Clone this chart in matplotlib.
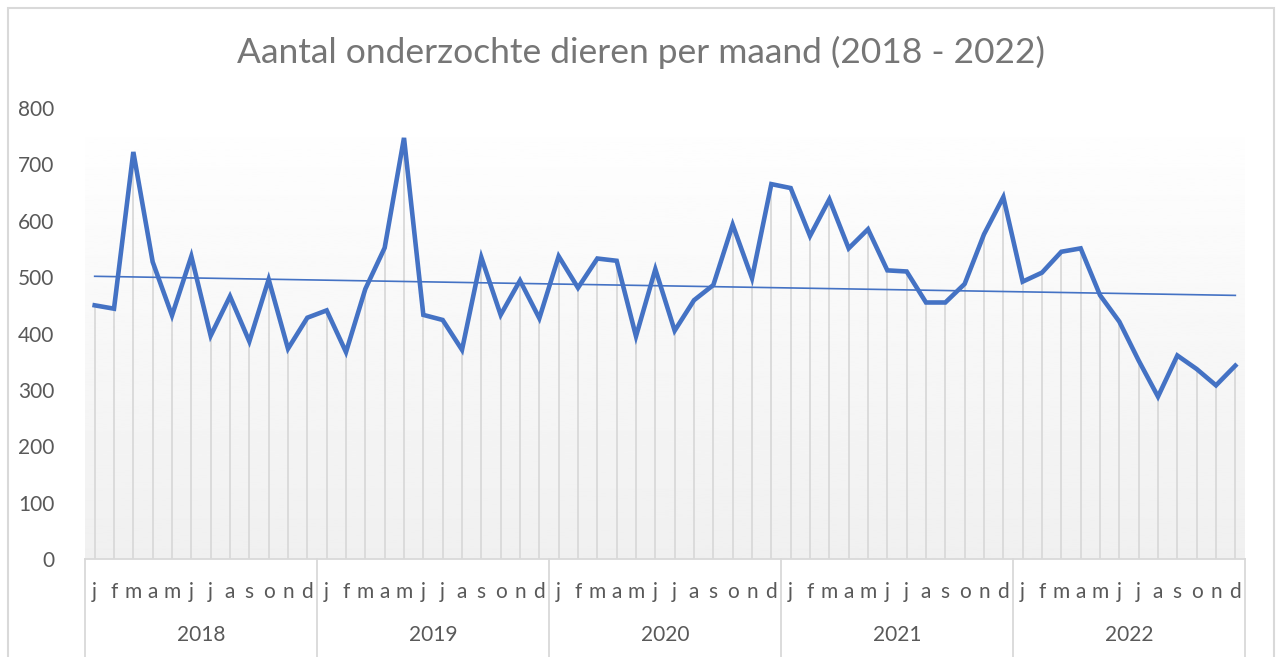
import numpy as np
import matplotlib
matplotlib.use('Agg')
import matplotlib.pyplot as plt
from matplotlib.patches import Rectangle

YEARS = ['2018', '2019', '2020', '2021', '2022']
MONTHS = ['j', 'f', 'm', 'a', 'm', 'j', 'j', 'a', 's', 'o', 'n', 'd']

COUNTS_2018 = [450, 444, 722, 527, 432, 537, 396, 466, 386, 496, 373, 428]
COUNTS_2019 = [441, 367, 479, 552, 747, 433, 424, 371, 535, 433, 494, 427]
COUNTS_2020 = [537, 481, 533, 529, 395, 514, 405, 459, 486, 593, 498, 665]
COUNTS_2021 = [658, 573, 638, 551, 585, 512, 510, 455, 455, 488, 576, 642]
COUNTS_2022 = [492, 508, 545, 551, 468, 421, 352, 288, 361, 337, 308, 343]

BLUE = '#4472C4'
GRID = '#d9d9d9'
TEXT = '#595959'

plt.rcParams['font.family'] = ['Lato', 'DejaVu Sans']

counts = np.array(COUNTS_2018 + COUNTS_2019 + COUNTS_2020 + COUNTS_2021 + COUNTS_2022)
x = np.arange(len(counts))

W, H = 1277, 657
fig = plt.figure(figsize=(W / 100, H / 100), dpi=100)
fig.patches.append(Rectangle((8 / W, -0.01), (1274 - 8) / W, 1.01 - 8 / H,
                             transform=fig.transFigure, fill=False,
                             edgecolor=GRID, lw=1.5))

left, right, bottom, top = 85, 1245, 559, 108
ax = fig.add_axes([left / W, 1 - bottom / H, (right - left) / W, (bottom - top) / H])

# plot-area gradient, white at top to light grey at the axis
grad = np.linspace(1.0, 0.94, 256).reshape(-1, 1)
ax.imshow(grad, cmap='gray', vmin=0, vmax=1, aspect='auto',
          extent=(-0.5, len(counts) - 0.5, 0, 800), zorder=0)

ax.vlines(x, 0, counts, color=GRID, lw=1.3, zorder=1)
ax.plot(x, counts, color=BLUE, lw=3.3, solid_joinstyle='miter', zorder=3)

# linear trend line
slope, icept = np.polyfit(x, counts, 1)
ax.plot(x, icept + slope * x, color=BLUE, lw=1.2, zorder=2)

ax.set_xlim(-0.5, len(counts) - 0.5)
ax.set_ylim(0, 800)
ax.set_yticks(range(0, 801, 100))
ax.tick_params(axis='y', length=0, pad=22, labelsize=15, labelcolor=TEXT)
ax.set_xticks([])
for s in ('top', 'right', 'left'):
    ax.spines[s].set_visible(False)
ax.spines['bottom'].set_color(GRID)
ax.spines['bottom'].set_linewidth(1.3)

# two-level category axis
for i in x:
    ax.annotate(MONTHS[i % 12], (i, 0), xycoords=('data', 'axes fraction'),
                xytext=(0, -24), textcoords='offset points',
                ha='center', va='center', fontsize=15, color=TEXT)
for k, yr in enumerate(YEARS):
    ax.annotate(yr, (k * 12 + 5.5, 0), xycoords=('data', 'axes fraction'),
                xytext=(0, -55), textcoords='offset points',
                ha='center', va='center', fontsize=15, color=TEXT)
sep_depth = -(657 - bottom) / (bottom - top)
for b in np.arange(-0.5, len(counts), 12):
    ax.plot([b, b], [0, sep_depth], transform=ax.get_xaxis_transform(),
            color=GRID, lw=1.3, clip_on=False)

fig.text(641 / W, 1 - 52 / H, 'Aantal onderzochte dieren per maand (2018 - 2022)',
         ha='center', va='center', fontsize=25.5, color='#767676')

fig.savefig('out.png', dpi=100)
